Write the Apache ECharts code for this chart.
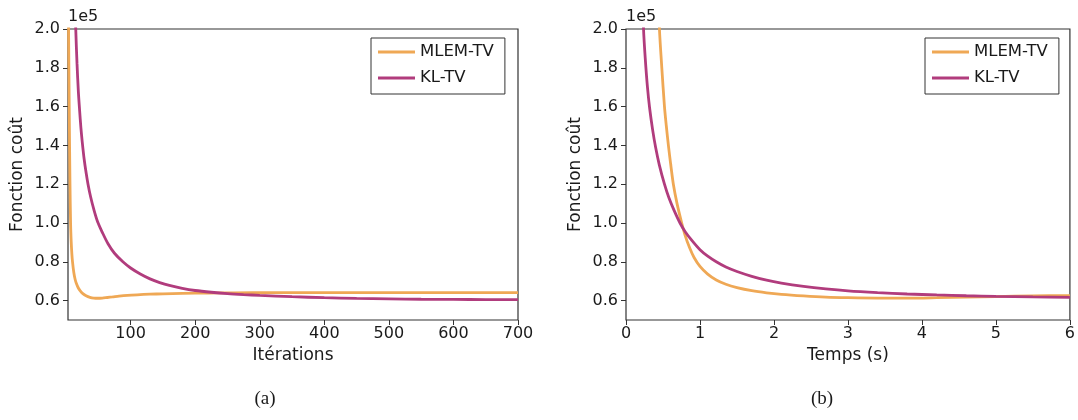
<!DOCTYPE html>
<html><head><meta charset="utf-8">
<script src="https://cdn.jsdelivr.net/npm/echarts@6/dist/echarts.min.js"></script>
<style>html,body{margin:0;padding:0;background:#fff}#c{width:1078px;height:420px}</style>
</head><body><div id="c"></div>
<script>
// Values in units of 1e5 (as shown by the axis multiplier)
const iterTicks = [100, 200, 300, 400, 500, 600, 700];
const timeTicks = [0, 1, 2, 3, 4, 5, 6];
const costTicks = [0.6, 0.8, 1.0, 1.2, 1.4, 1.6, 1.8, 2.0];
const seriesNames = ['MLEM-TV', 'KL-TV'];
const captions = ['(a)', '(b)'];

// (a) cost vs iterations
const mlemIterX = [3, 4, 5, 6, 7, 8, 9, 10, 12, 14, 16, 19, 22, 26, 31, 37, 43, 49, 56, 64, 72, 82, 95, 110, 130, 150, 180, 220, 260, 320, 400, 500, 600, 700];
const mlemIterY = [2.35, 1.95, 1.55, 1.22, 1.00, 0.90, 0.84, 0.80, 0.745, 0.71, 0.688, 0.665, 0.650, 0.636, 0.625, 0.617, 0.613, 0.612, 0.613, 0.616, 0.619, 0.623, 0.627, 0.630, 0.633, 0.635, 0.637, 0.639, 0.640, 0.641, 0.641, 0.641, 0.641, 0.641];
const klIterX = [12, 15, 17, 19, 21, 23, 25, 28, 31, 34, 38, 43, 49, 56, 65, 75, 88, 100, 115, 130, 145, 160, 180, 200, 225, 250, 275, 300, 350, 400, 450, 500, 550, 600, 650, 700];
const klIterY = [2.4, 2.0, 1.82, 1.68, 1.58, 1.49, 1.42, 1.33, 1.26, 1.20, 1.135, 1.07, 1.005, 0.953, 0.893, 0.844, 0.80, 0.768, 0.737, 0.712, 0.693, 0.678, 0.663, 0.652, 0.643, 0.636, 0.631, 0.627, 0.620, 0.615, 0.611, 0.609, 0.607, 0.606, 0.6055, 0.605];

// (b) cost vs time (s)
const mlemTimeX = [0.40, 0.452, 0.484, 0.52, 0.545, 0.573, 0.605, 0.64, 0.69, 0.753, 0.80, 0.86, 0.92, 1.0, 1.1, 1.22, 1.35, 1.5, 1.7, 1.9, 2.1, 2.4, 2.7, 3.0, 3.4, 3.8, 4.2, 4.6, 5.0, 5.5, 6.0];
const mlemTimeY = [2.5, 2.0, 1.8, 1.6, 1.5, 1.4, 1.3, 1.2, 1.10, 1.00, 0.935, 0.872, 0.822, 0.776, 0.738, 0.706, 0.684, 0.667, 0.651, 0.640, 0.632, 0.624, 0.618, 0.615, 0.613, 0.613, 0.615, 0.618, 0.621, 0.624, 0.626];
const klTimeX = [0.20, 0.237, 0.26, 0.29, 0.32, 0.36, 0.40, 0.45, 0.52, 0.58, 0.65, 0.73, 0.80, 0.89, 1.0, 1.1, 1.22, 1.35, 1.5, 1.7, 1.9, 2.1, 2.4, 2.7, 3.0, 3.4, 3.8, 4.2, 4.6, 5.0, 5.5, 6.0];
const klTimeY = [2.45, 2.0, 1.85, 1.70, 1.59, 1.48, 1.39, 1.30, 1.20, 1.13, 1.065, 1.00, 0.955, 0.91, 0.862, 0.83, 0.80, 0.773, 0.750, 0.725, 0.705, 0.690, 0.673, 0.660, 0.650, 0.641, 0.634, 0.629, 0.625, 0.622, 0.619, 0.617];

const colors = ['#EFA855', '#B13C7D'];
const FONT = 'DejaVu Sans';
const TXT = '#1a1a1a';
const zip = (xs, ys) => xs.map((x, i) => [x, ys[i]]);

const grids = [
  {left: 68, top: 29, width: 450, height: 291},
  {left: 626, top: 29, width: 446, height: 291}
];

function xAx(i, min, max, ticks, name) {
  return {
    type: 'value', gridIndex: i, min: min, max: max,
    name: name, nameLocation: 'middle', nameGap: 25,
    nameTextStyle: {fontFamily: FONT, fontSize: 17, color: TXT},
    axisLine: {show: false},
    axisTick: {show: true, length: 5, customValues: ticks, lineStyle: {color: '#333', width: 1}},
    axisLabel: {customValues: ticks, margin: 6, fontFamily: FONT, fontSize: 16, color: TXT, formatter: v => String(v)},
    splitLine: {show: false}
  };
}
function yAx(i) {
  return {
    type: 'value', gridIndex: i, min: 0.5, max: 2.0,
    name: 'Fonction coût', nameLocation: 'middle', nameGap: 42,
    nameTextStyle: {fontFamily: FONT, fontSize: 17, color: TXT},
    axisLine: {show: false},
    axisTick: {show: true, length: 5, customValues: costTicks, lineStyle: {color: '#333', width: 1}},
    axisLabel: {customValues: costTicks, margin: 8, fontFamily: FONT, fontSize: 16, color: TXT, formatter: v => v.toFixed(1)},
    splitLine: {show: false}
  };
}
function line(name, xi, data, color) {
  return {
    name: name, type: 'line', xAxisIndex: xi, yAxisIndex: xi, data: data,
    showSymbol: false, smooth: 0.3, clip: true,
    lineStyle: {color: color, width: 2.8}, itemStyle: {color: color}, z: name === 'KL-TV' ? 3 : 2
  };
}
function legend(left) {
  return {
    left: left, top: 38, orient: 'vertical', icon: 'rect', itemWidth: 37, itemHeight: 3,
    itemGap: 6, itemTextGap: 14, padding: [4, 11, 6, 7],
    borderColor: '#333', borderWidth: 1, backgroundColor: '#fff',
    textStyle: {fontFamily: FONT, fontSize: 16.5, color: TXT, lineHeight: 20},
    data: seriesNames, selectedMode: false
  };
}

const chart = echarts.init(document.getElementById('c'), null, {renderer: 'canvas'});
chart.setOption({
  animation: false,
  backgroundColor: '#fff',
  grid: grids.map(g => Object.assign({show: true, borderColor: '#333', borderWidth: 1.2, backgroundColor: 'transparent', containLabel: false}, g)),
  xAxis: [
    xAx(0, 3, 700, iterTicks, 'Itérations'),
    xAx(1, 0, 6, timeTicks, 'Temps (s)')
  ],
  yAxis: [yAx(0), yAx(1)],
  legend: [legend(371), legend(925)],
  title: [
    {text: '1e5', left: 68, top: 9, padding: 0, textStyle: {fontFamily: FONT, fontSize: 16, fontWeight: 'normal', color: TXT}},
    {text: '1e5', left: 626, top: 9, padding: 0, textStyle: {fontFamily: FONT, fontSize: 16, fontWeight: 'normal', color: TXT}},
    {text: captions[0], left: 265, top: 390, textAlign: 'center', padding: 0, textStyle: {fontFamily: 'Liberation Serif', fontSize: 19, fontWeight: 'normal', color: TXT}},
    {text: captions[1], left: 822, top: 390, textAlign: 'center', padding: 0, textStyle: {fontFamily: 'Liberation Serif', fontSize: 19, fontWeight: 'normal', color: TXT}}
  ],
  series: [
    line(seriesNames[0], 0, zip(mlemIterX, mlemIterY), colors[0]),
    line(seriesNames[1], 0, zip(klIterX, klIterY), colors[1]),
    line(seriesNames[0], 1, zip(mlemTimeX, mlemTimeY), colors[0]),
    line(seriesNames[1], 1, zip(klTimeX, klTimeY), colors[1])
  ]
});
</script></body></html>
